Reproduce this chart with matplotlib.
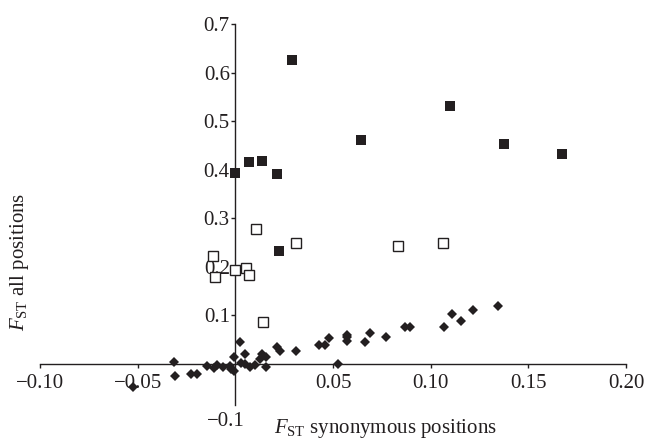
import matplotlib
matplotlib.use("Agg")
import matplotlib.pyplot as plt

plt.rcParams['font.family'] = ['Liberation Serif', 'DejaVu Serif']
plt.rcParams['mathtext.fontset'] = 'custom'
plt.rcParams['mathtext.rm'] = 'Liberation Serif'
plt.rcParams['mathtext.it'] = 'Liberation Serif:italic'

# Filled squares
fill_x = [0.0, 0.007, 0.0138, 0.0212, 0.0224, 0.0292, 0.0642, 0.110, 0.1377, 0.167]
fill_y = [0.394, 0.415, 0.418, 0.392, 0.233, 0.626, 0.462, 0.531, 0.452, 0.433]

# Open squares
open_x = [-0.0114, -0.0102, 0.0, 0.0055, 0.0068, 0.0106, 0.0142, 0.0312, 0.0833, 0.1065]
open_y = [0.223, 0.179, 0.193, 0.198, 0.183, 0.277, 0.0855, 0.250, 0.244, 0.250]

# Diamonds
dia_x = [-0.0525, -0.0316, -0.0307, -0.0229, -0.0196, -0.0143, -0.0111, -0.0092, -0.0063,
         -0.0029, -0.0020, -0.0007, -0.0007, 0.0022, 0.0031, 0.0048, 0.0049, 0.0073, 0.0099,
         0.0125, 0.0138, 0.0159, 0.0159, 0.0213, 0.0227, 0.0309, 0.0427, 0.0461, 0.0480,
         0.0527, 0.0572, 0.0572, 0.0572, 0.0664, 0.0688, 0.0770, 0.0867, 0.0892, 0.1067,
         0.1108, 0.1154, 0.1217, 0.1345]
dia_y = [-0.0467, 0.0034, -0.0248, -0.0207, -0.0207, -0.0048, -0.0090, -0.0020, -0.0055,
         -0.0034, -0.0103, -0.0152, 0.0138, 0.0448, 0.0020, 0.0000, 0.0207, -0.0055, -0.0020,
         0.0103, 0.0200, 0.0152, -0.0069, 0.0345, 0.0262, 0.0262, 0.0393, 0.0393, 0.0531,
         0.0000, 0.0607, 0.0550, 0.0483, 0.0448, 0.0634, 0.0566, 0.0772, 0.0772, 0.0759,
         0.1034, 0.0883, 0.1117, 0.1200]

xticks = [-0.10, -0.05, 0.05, 0.10, 0.15, 0.20]
xticklabels = ['\u22120.10', '\u22120.05', '0.05', '0.10', '0.15', '0.20']
yticks = [0.1, 0.2, 0.3, 0.4, 0.5, 0.6, 0.7]
yticklabels = ['0.1', '0.2', '0.3', '0.4', '0.5', '0.6', '0.7']

ink = '#231f20'

fig = plt.figure(figsize=(6.59, 4.42), dpi=100)
ax = fig.add_axes([40/659, 1 - 412.6/442, (626 - 40)/659, (412.6 - 24)/442])
ax.set_xlim(-0.10, 0.20)
ax.set_ylim(-0.10, 0.70)

ax.plot(dia_x, dia_y, linestyle='none', marker='D', markersize=5.6,
        color=ink, markeredgewidth=0, clip_on=False, zorder=3)
ax.plot(open_x, open_y, linestyle='none', marker='s', markersize=6.6,
        markerfacecolor='white', markeredgecolor=ink, markeredgewidth=1.0,
        clip_on=False, zorder=3)
ax.plot(fill_x, fill_y, linestyle='none', marker='s', markersize=6.8,
        color=ink, markeredgewidth=0, clip_on=False, zorder=3)

for s in ['top', 'right']:
    ax.spines[s].set_visible(False)
ax.spines['left'].set_position(('data', 0))
ax.spines['bottom'].set_position(('data', 0))
ax.spines['left'].set_bounds(-0.085, 0.70)
for s in ['left', 'bottom']:
    ax.spines[s].set_color(ink)
    ax.spines[s].set_linewidth(1.0)

ax.set_xticks(xticks)
ax.set_xticklabels(xticklabels)
ax.set_yticks(yticks)
ax.set_yticklabels(yticklabels)
ax.tick_params(axis='both', direction='out', length=3, width=1.0, color=ink,
               labelsize=15, labelcolor=ink)
ax.tick_params(axis='x', pad=4)
ax.tick_params(axis='y', pad=1)

ax.text(0.005, -0.119, '\u22120.1', ha='right', va='center', fontsize=15,
        color=ink, clip_on=False)

fig.text(386/659, 1 - 428/442, r'$F_{\mathrm{ST}}$ synonymous positions',
         ha='center', va='center', fontsize=15, color=ink)
fig.text(20/659, 1 - 262/442, r'$F_{\mathrm{ST}}$ all positions',
         ha='center', va='center', rotation=90, fontsize=15, color=ink)

fig.savefig('out.png', dpi=100)
